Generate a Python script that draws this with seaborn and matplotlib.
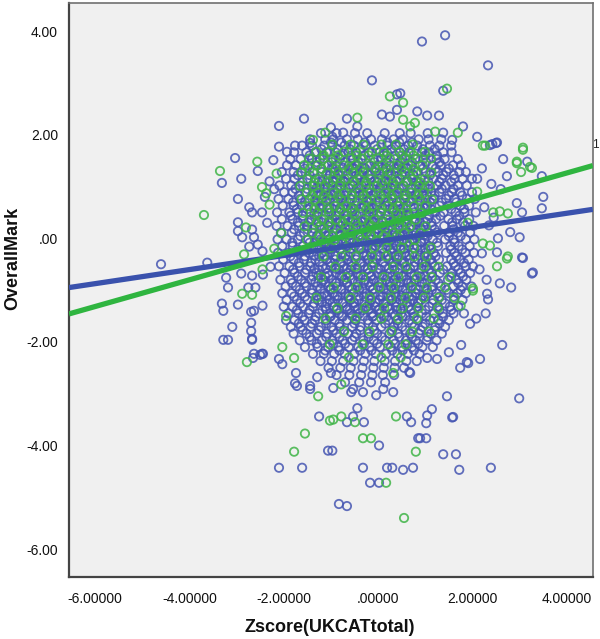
import matplotlib
matplotlib.use("Agg")
import matplotlib.pyplot as plt
import seaborn as sns
import pandas as pd
import numpy as np

# ---------------- data ----------------
blue_out_x = [0.93, 1.42, 2.33, -0.13, 1.38, 0.83, 1.04, 1.29, 0.47, 0.40, 1.8, 2.1, 2.52, 2.37, 1.38, 1.57,
              -2.1, -1.57, -0.66, -0.44, -1.0, -0.74, -0.97, 0.08, 0.25, 0.40, -1.44, -1.76, -2.1, -1.93, -2.22,
              3.16, 3.47, 3.5, 3.47, 2.65, 2.73, 2.94, 3.05, 2.5, 2.42, 3.0, 2.8, 3.07, 3.26, 2.82, 2.58, 2.31,
              2.2, 2.52, 2.54, 3.28, 3.05, 2.33, 2.63, 2.16, 1.88, 1.74, 1.76, 1.5, 1.25, 1.04, 0.66, 2.08, 1.95,
              2.99, 1.91, 1.46, 1.57, 1.59, 1.14, 1.04, 1.02, 0.61, 0.7, 0.85, 0.89, 1.02, 1.38, 1.65, 1.72, 2.39,
              0.74, 0.53, 0.19, 0.3, -0.32, -0.17, 0.02, 0.02, -0.83, -0.66, -1.06, -0.97, -1.61, -2.1, -1.25,
              -0.66, -0.53, -0.3, -0.44, -0.95, -1.44, -1.0, -0.57, -0.53, -0.32, -0.04, 0.11, 0.32, 0.68,
              -3.28, -3.18, -2.67, -2.65, -2.5, -2.44, -2.1, -2.03, -1.74, -1.76, -1.72, -1.29, -1.44,
              -4.6, -3.62, -3.03, -3.31, -2.9, -2.97, -2.73, -2.67, -2.46, -2.97, -2.97, -2.88, -2.67, -2.63,
              -2.73, -2.55, -3.22, -3.18, -2.9, -2.67, -2.44, -3.31, -3.28, -2.97, -2.69, -2.63, -3.09, -2.69,
              -2.69, -2.67, -2.63, -2.46, -2.75, -2.6, -2.45, -2.45, -2.55, -2.3, -2.4, -2.2, -2.35, -2.28,
              2.25, 2.4, 2.6, 2.2, 2.35, 2.15, 2.3, 2.45, 2.1, 2.28]
blue_out_y = [3.8, 3.92, 3.34, 3.05, 2.85, 2.45, 2.37, 2.37, 2.8, 2.78, 2.16, 1.96, 1.85, 1.8, 2.04, 1.9,
              2.17, 2.31, 2.31, 2.16, 2.14, 2.04, 1.96, 2.39, 2.35, 2.48, 1.84, 1.79, 1.77, 1.67, 1.51,
              1.48, 1.2, 0.8, 0.58, 1.53, 1.2, 0.68, 0.5, 1.84, 1.82, 0.02, 0.12, -0.38, -0.68, -0.95, -0.87, -1.07,
              -0.29, -0.27, 0.0, -0.66, -0.37, -1.18, -2.06, -2.33, -2.39, -2.5, -2.06, -2.2, -2.33, -2.31, -2.58, -1.55, -1.65,
              -3.09, -2.41, -3.05, -3.46, -3.45, -3.3, -3.42, -3.57, -3.44, -3.55, -3.86, -3.86, -3.86, -4.17, -4.17, -4.47, -4.43,
              -4.43, -4.47, -4.43, -4.43, -4.43, -4.72, -4.72, -4.0, -5.13, -5.17, -4.1, -4.1, -4.43, -4.43, -3.44,
              -3.55, -3.44, -3.55, -3.28, -2.89, -2.91, -2.6, -2.97, -2.91, -2.97, -3.03, -2.91, -2.97, -2.6,
              -1.96, -1.96, -1.94, -2.31, -2.25, -2.23, -2.33, -2.43, -2.6, -2.8, -2.85, -2.68, -2.85,
              -0.5, -0.47, 1.55, 1.07, 1.15, 0.76, 0.6, 0.5, 0.5, 0.31, 0.14, 0.02, 0.17, 0.02,
              -0.16, -0.12, -0.76, -0.95, -0.68, -0.72, -0.7, -1.26, -1.4, -1.28, -1.42, -1.4, -1.71, -1.63,
              -1.79, -1.96, -2.23, -2.23, -0.95, -0.95, -1.3, -0.25, 1.3, 1.1, 0.8, 0.95, 0.3, -0.55,
              0.6, 1.05, 0.95, 1.35, 0.25, -0.6, -0.8, 0.4, 1.15, -1.45]

blue_core_rows = [
    (2.03, [-1.21, -0.88, -0.49, -0.23, 0.14, 0.46, 0.69, 1.05]),
    (1.91, [-1.44, -1.12, -0.95, -0.66, -0.43, -0.15, 0.08, 0.33, 0.52, 0.86, 1.07, 1.34]),
    (1.79, [-1.61, -1.4, -1.14, -0.97, -0.71, -0.51, -0.26, -0.07, 0.2, 0.37, 0.64, 0.83, 1.1, 1.3, 1.55]),
    (1.66, [-1.78, -1.52, -1.33, -1.09, -0.9, -0.63, -0.47, -0.2, 0.03, 0.19, 0.46, 0.65, 0.93, 1.08, 1.38, 1.56]),
    (1.53, [-1.86, -1.64, -1.4, -1.23, -0.96, -0.81, -0.53, -0.36, -0.1, 0.07, 0.35, 0.51, 0.79, 0.96, 1.24, 1.41, 1.69]),
    (1.41, [-1.93, -1.74, -1.49, -1.32, -1.06, -0.89, -0.62, -0.45, -0.18, 0.0, 0.26, 0.44, 0.7, 0.89, 1.15, 1.33, 1.59, 1.76]),
    (1.28, [-2.04, -1.79, -1.62, -1.36, -1.19, -0.93, -0.75, -0.49, -0.32, -0.06, 0.13, 0.39, 0.56, 0.83, 1.01, 1.27, 1.45, 1.72, 1.86]),
    (1.15, [-1.95, -1.77, -1.5, -1.33, -1.06, -0.88, -0.63, -0.44, -0.17, 0.01, 0.28, 0.46, 0.72, 0.9, 1.17, 1.35, 1.62, 1.79, 1.99]),
    (1.02, [-2.09, -1.84, -1.66, -1.4, -1.23, -0.97, -0.79, -0.53, -0.35, -0.09, 0.1, 0.36, 0.54, 0.8, 0.99, 1.25, 1.43, 1.69, 1.88]),
    (0.89, [-1.99, -1.81, -1.54, -1.37, -1.11, -0.92, -0.66, -0.48, -0.22, -0.04, 0.22, 0.41, 0.67, 0.85, 1.12, 1.3, 1.56, 1.74, 1.99]),
    (0.76, [-2.11, -1.9, -1.65, -1.46, -1.2, -1.02, -0.77, -0.59, -0.33, -0.15, 0.11, 0.29, 0.55, 0.74, 1.0, 1.18, 1.44, 1.62, 1.88, 2.05]),
    (0.63, [-2.02, -1.79, -1.61, -1.35, -1.17, -0.91, -0.73, -0.47, -0.29, -0.03, 0.15, 0.41, 0.6, 0.86, 1.04, 1.3, 1.48, 1.74, 1.93]),
    (0.50, [-2.14, -1.88, -1.7, -1.44, -1.26, -1.0, -0.82, -0.56, -0.38, -0.12, 0.06, 0.32, 0.5, 0.76, 0.94, 1.2, 1.39, 1.64, 1.83, 2.07]),
    (0.37, [-2.04, -1.81, -1.59, -1.41, -1.15, -0.97, -0.71, -0.53, -0.27, -0.09, 0.17, 0.35, 0.61, 0.79, 1.05, 1.23, 1.49, 1.67, 1.93]),
    (0.24, [-2.15, -1.92, -1.68, -1.5, -1.24, -1.06, -0.8, -0.62, -0.36, -0.18, 0.08, 0.26, 0.52, 0.7, 0.96, 1.14, 1.4, 1.58, 1.84, 2.02]),
    (0.11, [-2.06, -1.83, -1.57, -1.39, -1.13, -0.95, -0.69, -0.51, -0.25, -0.07, 0.19, 0.37, 0.63, 0.81, 1.07, 1.25, 1.51, 1.69, 1.95]),
    (-0.02, [-2.13, -1.94, -1.7, -1.48, -1.22, -1.04, -0.78, -0.6, -0.34, -0.16, 0.1, 0.28, 0.54, 0.72, 0.98, 1.16, 1.42, 1.6, 1.86, 2.04]),
    (-0.15, [-2.03, -1.81, -1.59, -1.37, -1.11, -0.93, -0.67, -0.49, -0.23, -0.05, 0.21, 0.39, 0.65, 0.83, 1.09, 1.27, 1.53, 1.71, 1.94]),
    (-0.28, [-2.12, -1.9, -1.68, -1.46, -1.2, -1.02, -0.76, -0.58, -0.32, -0.14, 0.12, 0.3, 0.56, 0.74, 1.0, 1.18, 1.44, 1.62, 1.85, 2.03]),
    (-0.41, [-2.01, -1.79, -1.57, -1.33, -1.09, -0.91, -0.65, -0.47, -0.21, -0.03, 0.23, 0.41, 0.67, 0.85, 1.11, 1.29, 1.55, 1.73, 1.92]),
    (-0.54, [-2.1, -1.88, -1.66, -1.44, -1.18, -1.0, -0.74, -0.56, -0.3, -0.12, 0.14, 0.32, 0.58, 0.76, 1.02, 1.2, 1.46, 1.64, 1.86, 2.01]),
    (-0.67, [-1.98, -1.77, -1.55, -1.31, -1.07, -0.89, -0.63, -0.45, -0.19, -0.01, 0.25, 0.43, 0.69, 0.87, 1.13, 1.31, 1.57, 1.75, 1.95]),
    (-0.80, [-2.07, -1.85, -1.63, -1.42, -1.16, -0.98, -0.72, -0.54, -0.28, -0.1, 0.16, 0.34, 0.6, 0.78, 1.04, 1.22, 1.48, 1.66, 1.87]),
    (-0.93, [-1.96, -1.74, -1.52, -1.29, -1.05, -0.87, -0.61, -0.43, -0.17, 0.01, 0.27, 0.45, 0.71, 0.89, 1.15, 1.33, 1.59, 1.78, 1.98]),
    (-1.06, [-2.03, -1.83, -1.61, -1.4, -1.14, -0.96, -0.7, -0.52, -0.26, -0.08, 0.18, 0.36, 0.62, 0.8, 1.06, 1.24, 1.5, 1.68, 1.86]),
    (-1.19, [-1.94, -1.72, -1.5, -1.27, -1.03, -0.85, -0.59, -0.41, -0.15, 0.03, 0.29, 0.47, 0.73, 0.91, 1.17, 1.35, 1.61, 1.79]),
    (-1.32, [-2.0, -1.81, -1.59, -1.38, -1.12, -0.94, -0.68, -0.5, -0.24, -0.06, 0.2, 0.38, 0.64, 0.82, 1.08, 1.26, 1.52, 1.7]),
    (-1.45, [-1.9, -1.69, -1.47, -1.25, -1.01, -0.83, -0.57, -0.39, -0.13, 0.05, 0.31, 0.49, 0.75, 0.93, 1.19, 1.37, 1.6, 1.82]),
    (-1.58, [-1.95, -1.77, -1.56, -1.34, -1.1, -0.92, -0.66, -0.48, -0.22, -0.04, 0.22, 0.4, 0.66, 0.84, 1.1, 1.28, 1.5]),
    (-1.71, [-1.85, -1.64, -1.43, -1.21, -0.99, -0.81, -0.55, -0.37, -0.11, 0.07, 0.33, 0.51, 0.77, 0.95, 1.21, 1.42]),
    (-1.84, [-1.79, -1.52, -1.3, -1.08, -0.88, -0.64, -0.46, -0.2, -0.02, 0.24, 0.42, 0.68, 0.86, 1.12, 1.35]),
    (-1.97, [-1.66, -1.41, -1.19, -0.97, -0.75, -0.55, -0.31, -0.09, 0.15, 0.33, 0.59, 0.8, 1.03, 1.24]),
    (-2.10, [-1.55, -1.28, -1.06, -0.84, -0.62, -0.42, -0.18, 0.04, 0.27, 0.5, 0.72, 0.94, 1.16]),
    (-2.23, [-1.38, -1.15, -0.93, -0.71, -0.5, -0.27, -0.05, 0.17, 0.41, 0.63, 0.88]),
    (-2.37, [-1.22, -0.98, -0.74, -0.52, -0.3, -0.08, 0.14, 0.36, 0.6, 0.82]),
    (-2.50, [-1.05, -0.8, -0.58, -0.33, -0.1, 0.12, 0.35, 0.55]),
    (-2.64, [-0.88, -0.61, -0.36, -0.12, 0.1, 0.34]),
    (-2.78, [-0.7, -0.4, -0.15, 0.15]),
]

blue_inner_rows = [
    (1.85, [-1.0, -0.78, -0.28, 0.2, 0.45, 0.72]),
    (1.72, [-1.2, -0.85, -0.6, -0.38, -0.02, 0.28, 0.55, 0.95, 1.2]),
    (1.60, [-1.45, -1.18, -0.78, -0.57, -0.3, 0.12, 0.36, 0.6, 1.0, 1.25]),
    (1.47, [-1.3, -0.98, -0.7, -0.42, -0.08, 0.18, 0.47, 0.72, 1.02, 1.3]),
    (1.345, [-1.55, -1.2, -0.95, -0.55, -0.27, 0.1, 0.35, 0.6, 0.95, 1.22, 1.5]),
    (1.22, [-1.7, -1.45, -1.02, -0.82, -0.4, -0.2, 0.2, 0.5, 0.75, 1.1, 1.38, 1.6]),
    (1.085, [-1.6, -1.27, -0.95, -0.7, -0.3, -0.02, 0.22, 0.62, 0.85, 1.3, 1.55]),
    (0.955, [-1.75, -1.5, -1.15, -0.87, -0.46, -0.18, 0.18, 0.45, 0.7, 1.06, 1.35, 1.6]),
    (0.825, [-1.68, -1.3, -1.05, -0.7, -0.4, -0.12, 0.3, 0.55, 0.93, 1.2, 1.5, 1.78]),
    (0.695, [-1.8, -1.55, -1.28, -0.86, -0.62, -0.2, 0.03, 0.4, 0.66, 1.1, 1.35, 1.66]),
    (0.565, [-1.72, -1.5, -1.08, -0.8, -0.5, -0.18, 0.25, 0.48, 0.9, 1.12, 1.55, 1.82]),
    (0.435, [-1.85, -1.6, -1.3, -0.9, -0.65, -0.2, 0.02, 0.42, 0.66, 1.08, 1.32, 1.72]),
    (0.305, [-1.7, -1.48, -1.05, -0.85, -0.43, -0.17, 0.25, 0.45, 0.88, 1.13, 1.57, 1.8]),
    (0.175, [-1.78, -1.5, -1.2, -0.88, -0.6, -0.3, 0.0, 0.3, 0.58, 0.92, 1.2, 1.6]),
    (0.045, [-1.65, -1.3, -1.05, -0.8, -0.42, -0.18, 0.2, 0.47, 0.85, 1.05, 1.5, 1.75]),
    (-0.085, [-1.82, -1.45, -1.2, -0.85, -0.55, -0.27, 0.03, 0.33, 0.6, 0.92, 1.25, 1.62]),
    (-0.215, [-1.7, -1.5, -1.05, -0.8, -0.4, -0.12, 0.26, 0.47, 0.9, 1.12, 1.55, 1.78]),
    (-0.345, [-1.86, -1.55, -1.25, -0.9, -0.62, -0.3, 0.05, 0.35, 0.6, 0.98, 1.22, 1.66]),
    (-0.475, [-1.68, -1.42, -1.0, -0.78, -0.38, -0.1, 0.3, 0.52, 0.93, 1.15, 1.6, 1.82]),
    (-0.605, [-1.8, -1.52, -1.25, -0.82, -0.58, -0.22, 0.05, 0.35, 0.62, 1.08, 1.38, 1.7]),
    (-0.735, [-1.7, -1.38, -1.12, -0.77, -0.42, -0.15, 0.2, 0.5, 0.9, 1.15, 1.55, 1.8]),
    (-0.865, [-1.82, -1.55, -1.2, -0.9, -0.66, -0.3, 0.08, 0.38, 0.64, 0.98, 1.28, 1.7]),
    (-0.995, [-1.66, -1.4, -1.02, -0.78, -0.4, -0.12, 0.22, 0.52, 0.85, 1.14, 1.45, 1.75]),
    (-1.125, [-1.78, -1.55, -1.2, -0.92, -0.62, -0.3, 0.1, 0.38, 0.66, 1.0, 1.3, 1.6]),
    (-1.255, [-1.65, -1.36, -1.08, -0.76, -0.5, -0.18, 0.12, 0.52, 0.85, 1.15, 1.42]),
    (-1.385, [-1.72, -1.45, -1.18, -0.88, -0.6, -0.32, 0.0, 0.4, 0.7, 1.0, 1.3, 1.55]),
    (-1.515, [-1.6, -1.32, -1.02, -0.75, -0.45, -0.12, 0.18, 0.52, 0.76, 1.02, 1.38]),
    (-1.645, [-1.68, -1.4, -1.1, -0.82, -0.5, -0.2, 0.15, 0.42, 0.72, 1.0, 1.3]),
    (-1.775, [-1.6, -1.25, -0.95, -0.72, -0.38, -0.08, 0.3, 0.58, 0.9, 1.2]),
    (-1.905, [-1.45, -1.1, -0.82, -0.5, -0.2, 0.08, 0.45, 0.72, 1.05]),
    (-2.035, [-1.3, -0.95, -0.7, -0.3, -0.02, 0.36, 0.62, 0.85]),
    (-2.165, [-1.12, -0.82, -0.38, -0.14, 0.3, 0.52, 0.76]),
]

blue_center_rows = [
    (1.36, [-0.98, -0.75, -0.52, -0.3, -0.06, 0.17, 0.4, 0.62]),
    (1.23, [-1.1, -0.85, -0.63, -0.4, -0.17, 0.05, 0.28, 0.5, 0.74]),
    (1.10, [-1.19, -0.96, -0.74, -0.52, -0.28, -0.07, 0.15, 0.38, 0.6, 0.81, 1.06]),
    (0.97, [-1.3, -1.08, -0.86, -0.62, -0.41, -0.2, 0.04, 0.27, 0.49, 0.71, 0.94]),
    (0.84, [-1.22, -1.0, -0.79, -0.56, -0.33, -0.1, 0.11, 0.34, 0.58, 0.79, 1.03]),
    (0.71, [-1.33, -1.1, -0.9, -0.67, -0.44, -0.24, 0.0, 0.22, 0.45, 0.69, 0.9]),
    (0.58, [-1.24, -1.03, -0.81, -0.58, -0.37, -0.14, 0.09, 0.31, 0.53, 0.77, 0.99]),
    (0.45, [-1.35, -1.12, -0.89, -0.69, -0.46, -0.25, -0.02, 0.2, 0.43, 0.65, 0.88]),
    (0.32, [-1.26, -1.02, -0.8, -0.58, -0.36, -0.13, 0.1, 0.32, 0.55, 0.76, 1.0]),
    (0.19, [-1.36, -1.14, -0.91, -0.7, -0.47, -0.23, -0.02, 0.21, 0.44, 0.66, 0.89]),
    (0.06, [-1.27, -1.05, -0.82, -0.6, -0.38, -0.15, 0.08, 0.3, 0.52, 0.75, 0.97]),
    (-0.07, [-1.34, -1.12, -0.9, -0.68, -0.45, -0.22, 0.0, 0.22, 0.45, 0.67, 0.9]),
    (-0.20, [-1.25, -1.03, -0.8, -0.58, -0.36, -0.14, 0.09, 0.32, 0.55, 0.77, 1.0]),
    (-0.33, [-1.36, -1.13, -0.91, -0.69, -0.46, -0.24, -0.01, 0.21, 0.43, 0.66, 0.89]),
    (-0.46, [-1.24, -1.02, -0.8, -0.57, -0.35, -0.12, 0.1, 0.33, 0.55, 0.78, 1.01]),
    (-0.59, [-1.35, -1.11, -0.89, -0.67, -0.44, -0.22, 0.01, 0.23, 0.46, 0.68, 0.92]),
    (-0.72, [-1.26, -1.04, -0.81, -0.59, -0.37, -0.14, 0.09, 0.31, 0.54, 0.77, 0.99]),
    (-0.85, [-1.33, -1.11, -0.88, -0.66, -0.43, -0.2, 0.02, 0.25, 0.47, 0.7, 0.93]),
    (-0.98, [-1.22, -1.0, -0.78, -0.55, -0.33, -0.1, 0.12, 0.35, 0.58, 0.8, 1.03]),
    (-1.11, [-1.3, -1.08, -0.86, -0.63, -0.41, -0.18, 0.05, 0.27, 0.5, 0.72, 0.95]),
    (-1.24, [-1.19, -0.96, -0.74, -0.52, -0.29, -0.06, 0.16, 0.39, 0.61, 0.84]),
    (-1.37, [-1.1, -0.88, -0.65, -0.43, -0.2, 0.03, 0.25, 0.48, 0.7]),
    (-1.50, [-1.0, -0.77, -0.55, -0.32, -0.1, 0.13, 0.36, 0.58]),
]

green_out_x = [0.25, -0.44, -1.12, -1.38, 1.46, 0.53, 0.53, 2.22, 3.07, 1.21, 1.69, 0.68, 0.78, 3.07, 2.94,
               3.22, 3.03, 2.75, 2.58, 2.75, 2.52, 2.01, 2.73, 2.01, 0.17, 0.38, 0.8, -0.32, -0.15, 0.55,
               -1.55, -1.27, -0.95, -1.02, -0.78, -0.49, -0.78, 0.32, -2.78, -2.03, -1.78, -1.78, -3.69,
               -3.35, -2.56, -2.46, -2.37, -2.8, -2.84, -2.88, -2.67, 2.22, 2.37, 2.44, 2.27, 2.94, 3.26,
               -2.3, -2.2, -2.45, -2.15, 1.9, 2.1, 1.75, -1.95, -2.05]
green_out_y = [2.74, 2.33, 2.04, 1.9, 2.89, 2.62, 2.29, 1.79, 1.75, 2.06, 2.04, 2.16, 2.23, 1.71, 1.48,
               1.38, 1.28, 0.48, 0.52, -0.35, -0.54, -1.01, -0.39, -0.97, -4.72, -3.44, -4.12, -3.86, -3.86, -5.4,
               -3.77, -3.05, -3.5, -3.52, -3.44, -3.55, -2.82, -2.6, -2.39, -2.1, -2.31, -4.12, 0.45,
               1.3, 1.48, 0.99, 0.87, 0.21, -0.31, -1.07, -1.09, -0.1, -0.14, 0.5, 1.79, 1.45, 1.36,
               0.65, -0.2, -0.6, 1.25, 0.3, 0.9, -1.3, -1.5, 0.1]

green_core_rows = [
    (1.81, [-0.97, -0.58, -0.31, 0.07, 0.38, 0.74]),
    (1.67, [-1.31, -1.04, -0.72, -0.47, -0.13, 0.12, 0.45, 0.69, 0.99]),
    (1.60, [-1.15, -0.85, -0.45, -0.2, 0.18, 0.5, 0.75]),
    (1.54, [-1.46, -1.16, -0.9, -0.58, -0.33, 0.0, 0.25, 0.57, 0.83, 1.12]),
    (1.41, [-1.57, -1.28, -1.05, -0.73, -0.49, -0.16, 0.09, 0.4, 0.64, 0.94]),
    (1.34, [-1.45, -1.2, -0.9, -0.62, -0.38, -0.05, 0.18, 0.5, 0.75]),
    (1.27, [-1.63, -1.38, -1.08, -0.84, -0.53, -0.3, 0.02, 0.25, 0.57, 0.81, 1.13]),
    (1.14, [-1.49, -1.25, -0.94, -0.7, -0.38, -0.14, 0.17, 0.42, 0.74, 0.98]),
    (1.08, [-1.35, -1.05, -0.8, -0.5, -0.25, 0.08, 0.32, 0.62, 0.9]),
    (1.01, [-1.65, -1.36, -1.12, -0.81, -0.58, -0.26, -0.02, 0.3, 0.54, 0.86, 1.1]),
    (0.88, [-1.51, -1.27, -0.95, -0.72, -0.4, -0.16, 0.16, 0.4, 0.71, 0.97]),
    (0.82, [-1.4, -1.15, -0.85, -0.55, -0.3, 0.05, 0.28, 0.6, 0.85]),
    (0.75, [-1.62, -1.34, -1.1, -0.79, -0.55, -0.24, 0.0, 0.32, 0.56, 0.88, 1.14]),
    (0.62, [-1.48, -1.23, -0.92, -0.68, -0.36, -0.12, 0.2, 0.44, 0.76, 1.0]),
    (0.56, [-1.35, -1.05, -0.8, -0.55, -0.25, 0.08, 0.33, 0.6]),
    (0.49, [-1.59, -1.28, -1.04, -0.73, -0.5, -0.18, 0.06, 0.38, 0.62, 0.93]),
    (0.36, [-1.44, -1.19, -0.88, -0.64, -0.32, -0.08, 0.24, 0.48, 0.8]),
    (0.30, [-1.3, -1.05, -0.75, -0.48, -0.2, 0.1, 0.35, 0.62]),
    (0.23, [-1.56, -1.23, -1.0, -0.68, -0.44, -0.12, 0.12, 0.44, 0.68, 1.01]),
    (0.10, [-1.39, -1.12, -0.8, -0.56, -0.24, 0.0, 0.32, 0.56, 0.9]),
    (0.04, [-1.25, -0.95, -0.7, -0.4, -0.15, 0.12, 0.4]),
    (-0.03, [-1.51, -1.18, -0.92, -0.6, -0.35, -0.03, 0.22, 0.54, 0.78]),
    (-0.18, [-1.29, -1.0, -0.66, -0.4, -0.08, 0.18, 0.5, 0.76, 1.12]),
    (-0.35, [-1.16, -0.78, -0.47, -0.13, 0.17, 0.43, 0.77, 1.03]),
    (-0.55, [-0.91, -0.48, -0.12, 0.32, 0.6, 0.97, 1.28]),
    (-0.75, [-1.21, -0.68, -0.32, 0.12, 0.43, 0.82, 1.13, 1.52]),
    (-0.95, [-0.94, -0.47, 0.02, 0.33, 0.72, 1.03, 1.42]),
    (-1.15, [-1.31, -0.58, -0.17, 0.27, 0.58, 0.97, 1.28, 1.62]),
    (-1.35, [-0.86, -0.28, 0.13, 0.52, 0.86, 1.27]),
    (-1.55, [-1.12, -0.48, 0.07, 0.43, 0.82, 1.18]),
    (-1.80, [-0.72, -0.18, 0.28, 0.72, 1.08]),
    (-2.05, [-1.02, -0.33, 0.22, 0.58]),
    (-2.30, [-0.62, 0.07, 0.48]),
]

# fitted lines per group (intercept, slope)
fit_blue = (-0.06, 0.136)
fit_green = (0.23, 0.258)

x_ticks = [-6, -4, -2, 0, 2, 4]
x_tick_labels = ["-6.00000", "-4.00000", "-2.00000", ".00000", "2.00000", "4.00000"]
y_ticks = [4, 2, 0, -2, -4, -6]
y_tick_labels = ["4.00", "2.00", ".00", "-2.00", "-4.00", "-6.00"]

# ---------------- build tables ----------------
def rows_to_xy(rows):
    xs, ys = [], []
    for yv, xl in rows:
        xs.extend(xl)
        ys.extend([yv] * len(xl))
    return xs, ys

bcx, bcy = rows_to_xy(blue_core_rows + blue_inner_rows + blue_center_rows)
gcx, gcy = rows_to_xy(green_core_rows)
df_blue = pd.DataFrame({"x": blue_out_x + bcx, "y": blue_out_y + bcy})
df_green = pd.DataFrame({"x": green_out_x + gcx, "y": green_out_y + gcy})

BLUE_PT = "#4656b2"
GREEN_PT = "#3fb447"
BLUE_LN = "#3a52ad"
GREEN_LN = "#2fb540"

sns.set_style("white")
plt.rcParams["font.family"] = ["Liberation Sans", "DejaVu Sans"]

fig = plt.figure(figsize=(6.0, 6.39), dpi=100)
ax = fig.add_axes([0.115, 0.097, 0.873, 0.898])
ax.set_facecolor("#f0f0f0")

sns.scatterplot(data=df_blue, x="x", y="y", ax=ax, marker="o", s=36,
                facecolors="none", edgecolor=BLUE_PT, linewidth=1.3, alpha=0.85)
sns.scatterplot(data=df_green, x="x", y="y", ax=ax, marker="o", s=36,
                facecolors="none", edgecolor=GREEN_PT, linewidth=1.3, alpha=0.85)

xlim = (-6.55, 4.55)
ylim = (-6.54, 4.54)
xl = np.array(xlim)
ax.plot(xl, fit_blue[0] + fit_blue[1] * xl, color=BLUE_LN, lw=3.8, solid_capstyle="butt", zorder=5)
ax.plot(xl, fit_green[0] + fit_green[1] * xl, color=GREEN_LN, lw=3.8, solid_capstyle="butt", zorder=6)

ax.set_xlim(*xlim)
ax.set_ylim(*ylim)
ax.set_xticks(x_ticks)
ax.set_xticklabels(x_tick_labels)
ax.set_yticks(y_ticks)
ax.set_yticklabels(y_tick_labels)
ax.tick_params(axis="both", direction="out", length=5, width=1.2, color="#333333",
               labelsize=10, labelcolor="#111111", pad=3)
ax.tick_params(axis="x", pad=6)
for side in ["left", "bottom"]:
    ax.spines[side].set_color("#444444")
    ax.spines[side].set_linewidth(1.6)
for side in ["top", "right"]:
    ax.spines[side].set_color("#707070")
    ax.spines[side].set_linewidth(1.2)

ax.set_xlabel("")
ax.set_ylabel("")
fig.text(0.55, 0.004, "Zscore(UKCATtotal)", ha="center", va="bottom",
         fontsize=13, fontweight="bold", color="#111111")
fig.text(0.022, 0.595, "OverallMark", ha="center", va="center", rotation=90,
         fontsize=13, fontweight="bold", color="#111111")
ax.text(0.9995, 0.753, "1", transform=ax.transAxes, fontsize=8.5, color="#222222",
        ha="left", va="center", clip_on=False)

fig.savefig("out.png", dpi=100)
